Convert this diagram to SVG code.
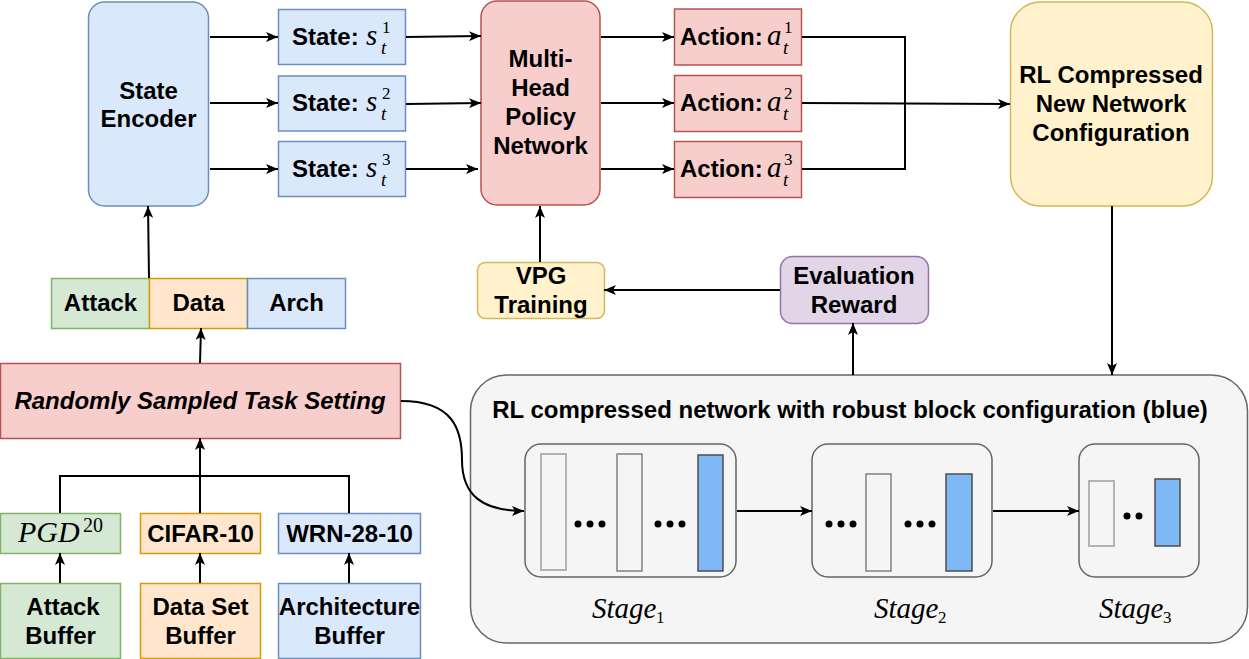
<svg xmlns="http://www.w3.org/2000/svg" width="1249" height="659" viewBox="0 0 1249 659">
<defs>
<marker id="arr" markerUnits="userSpaceOnUse" markerWidth="12" markerHeight="10" viewBox="0 0 12 10" refX="12" refY="5" orient="auto">
<path d="M0,0 L12,5 L0,10 L3,5 Z" fill="#000"/>
</marker>
<style>
.t{font-family:"Liberation Sans",Arial,sans-serif;font-weight:bold;font-size:24px;fill:#000;text-anchor:middle}
.ts{font-family:"Liberation Sans",Arial,sans-serif;font-weight:bold;font-size:24px;fill:#000}
.m{font-family:"Liberation Serif","Times New Roman",serif;font-style:italic;font-weight:normal;font-size:29px;fill:#000}
.mt{font-family:"Liberation Serif","Times New Roman",serif;font-style:italic;font-weight:normal;font-size:19px;fill:#000}
.ms{font-family:"Liberation Serif","Times New Roman",serif;font-style:normal;font-weight:normal;font-size:17px;fill:#000}
.ln{fill:none;stroke:#000;stroke-width:2}
.blue{fill:#dae8fc;stroke:#6c8ebf;stroke-width:1.5}
.red{fill:#f8cecc;stroke:#b85450;stroke-width:1.5}
.yel{fill:#fff2cc;stroke:#d6b656;stroke-width:1.5}
.grn{fill:#d5e8d4;stroke:#82b366;stroke-width:1.5}
.org{fill:#ffe6cc;stroke:#d79b00;stroke-width:1.5}
.pur{fill:#e1d5e7;stroke:#9673a6;stroke-width:1.5}
.stage{fill:#f5f5f5;stroke:#666;stroke-width:1.5}
.blk{fill:#f5f5f5;stroke:#808080;stroke-width:1.5}
.blkl{fill:#f5f5f5;stroke:#b3b3b3;stroke-width:2}
.rb{fill:#7eb9f6;stroke:#4d4d4d;stroke-width:1.5}
</style>
</defs>
<rect width="1249" height="659" fill="#fff"/>

<g id="container">
<rect x="470.5" y="375" width="777" height="268" rx="36" fill="#f5f5f5" stroke="#666" stroke-width="1.5"/>
<text class="t" x="850" y="418">RL compressed network with robust block configuration (blue)</text>
</g>

<g id="stage1">
<rect class="stage" x="525" y="444" width="211" height="133" rx="16"/>
<rect class="blkl" x="541" y="454" width="25" height="116"/>
<rect class="blk" x="617" y="454" width="25" height="117"/>
<rect class="rb" x="698" y="455" width="25" height="116"/>
<circle cx="578" cy="524" r="3.5"/><circle cx="590" cy="524" r="3.5"/><circle cx="602" cy="524" r="3.5"/>
<circle cx="658" cy="524" r="3.5"/><circle cx="670" cy="524" r="3.5"/><circle cx="682" cy="524" r="3.5"/>
<text class="m" x="592" y="618">Stage<tspan class="ms" x="656" y="623">1</tspan></text>
</g>

<g id="stage2">
<rect class="stage" x="812" y="444" width="180" height="133" rx="16"/>
<rect class="blk" x="866" y="474" width="25" height="97"/>
<rect class="rb" x="946" y="474" width="26" height="97"/>
<circle cx="829" cy="524" r="3.5"/><circle cx="841" cy="524" r="3.5"/><circle cx="853" cy="524" r="3.5"/>
<circle cx="908" cy="524" r="3.5"/><circle cx="920" cy="524" r="3.5"/><circle cx="932" cy="524" r="3.5"/>
<text class="m" x="874" y="618">Stage<tspan class="ms" x="938" y="623">2</tspan></text>
</g>

<g id="stage3">
<rect class="stage" x="1079" y="444" width="120" height="133" rx="16"/>
<rect class="blkl" x="1089" y="481" width="25" height="65"/>
<rect class="rb" x="1155" y="479" width="25" height="67"/>
<circle cx="1127" cy="516" r="3.5"/><circle cx="1139" cy="516" r="3.5"/>
<text class="m" x="1099" y="618">Stage<tspan class="ms" x="1163" y="623">3</tspan></text>
</g>

<g id="state-encoder">
<rect class="blue" x="88.5" y="2" width="120" height="204" rx="16"/>
<text class="t" x="148.5" y="99">State</text>
<text class="t" x="148.5" y="127">Encoder</text>
</g>

<g id="state1">
<rect class="blue" x="278.5" y="9.5" width="127" height="55"/>
<text class="ts" x="292" y="45">State:<tspan class="m" x="366">s</tspan><tspan class="ms" x="382" y="33">1</tspan><tspan class="mt" x="381" y="54">t</tspan></text>
</g>
<g id="state2">
<rect class="blue" x="278.5" y="76" width="127" height="55"/>
<text class="ts" x="292" y="111">State:<tspan class="m" x="366">s</tspan><tspan class="ms" x="382" y="99">2</tspan><tspan class="mt" x="381" y="120">t</tspan></text>
</g>
<g id="state3">
<rect class="blue" x="278.5" y="141.5" width="127" height="55"/>
<text class="ts" x="292" y="177">State:<tspan class="m" x="366">s</tspan><tspan class="ms" x="382" y="165">3</tspan><tspan class="mt" x="381" y="186">t</tspan></text>
</g>

<g id="policy">
<rect class="red" x="481" y="1" width="119" height="204" rx="16"/>
<text class="t" x="540.5" y="67">Multi-</text>
<text class="t" x="540.5" y="96">Head</text>
<text class="t" x="540.5" y="125">Policy</text>
<text class="t" x="540.5" y="154">Network</text>
</g>

<g id="action1">
<rect class="red" x="674.5" y="9" width="127" height="56"/>
<text class="ts" x="680" y="45">Action:<tspan class="m" x="767">a</tspan><tspan class="ms" x="784" y="33">1</tspan><tspan class="mt" x="783" y="54">t</tspan></text>
</g>
<g id="action2">
<rect class="red" x="674.5" y="75.5" width="127" height="56"/>
<text class="ts" x="680" y="111">Action:<tspan class="m" x="767">a</tspan><tspan class="ms" x="784" y="99">2</tspan><tspan class="mt" x="783" y="120">t</tspan></text>
</g>
<g id="action3">
<rect class="red" x="674.5" y="141.5" width="127" height="56"/>
<text class="ts" x="680" y="177">Action:<tspan class="m" x="767">a</tspan><tspan class="ms" x="784" y="165">3</tspan><tspan class="mt" x="783" y="186">t</tspan></text>
</g>

<g id="rl-config">
<rect class="yel" x="1010.5" y="2" width="202" height="204" rx="30"/>
<text class="t" x="1111" y="83">RL Compressed</text>
<text class="t" x="1111" y="112">New Network</text>
<text class="t" x="1111" y="141">Configuration</text>
</g>

<g id="vpg">
<rect class="yel" x="477.5" y="262.5" width="127" height="56" rx="8"/>
<text class="t" x="541" y="284">VPG</text>
<text class="t" x="541" y="313">Training</text>
</g>

<g id="reward">
<rect class="pur" x="780.5" y="256.5" width="148" height="67" rx="12"/>
<text class="t" x="854" y="284">Evaluation</text>
<text class="t" x="854" y="313">Reward</text>
</g>

<g id="attack">
<rect class="grn" x="51.5" y="278.5" width="98" height="50"/>
<text class="t" x="100.5" y="311">Attack</text>
</g>
<g id="data">
<rect class="org" x="149.5" y="278.5" width="98" height="50"/>
<text class="t" x="198.5" y="311">Data</text>
</g>
<g id="arch">
<rect class="blue" x="247.5" y="278.5" width="98" height="50"/>
<text class="t" x="296.5" y="311">Arch</text>
</g>

<g id="task">
<rect class="red" x="0.5" y="363.5" width="400" height="75"/>
<text class="t" x="200" y="409" style="font-style:italic">Randomly Sampled Task Setting</text>
</g>

<g id="pgd">
<rect class="grn" x="0.5" y="513.5" width="120" height="40"/>
<text class="m" x="18" y="542" style="font-size:30px">PGD<tspan class="ms" x="83" y="532" style="font-size:20px">20</tspan></text>
</g>
<g id="cifar">
<rect class="org" x="140.5" y="513.5" width="120" height="40"/>
<text class="t" x="200.5" y="542">CIFAR-10</text>
</g>
<g id="wrn">
<rect class="blue" x="278.5" y="513.5" width="142" height="40"/>
<text class="t" x="349.5" y="542">WRN-28-10</text>
</g>

<g id="attack-buffer">
<rect class="grn" x="0.5" y="583.5" width="120" height="75"/>
<text class="t" x="63" y="615">Attack</text>
<text class="t" x="60.5" y="644">Buffer</text>
</g>
<g id="data-buffer">
<rect class="org" x="140.5" y="583.5" width="120" height="75"/>
<text class="t" x="200.5" y="615">Data Set</text>
<text class="t" x="200.5" y="644">Buffer</text>
</g>
<g id="arch-buffer">
<rect class="blue" x="278.5" y="583.5" width="142" height="75"/>
<text class="t" x="349.5" y="615">Architecture</text>
<text class="t" x="349.5" y="644">Buffer</text>
</g>

<g id="connectors">
<path class="ln" d="M210,37 H278" marker-end="url(#arr)"/>
<path class="ln" d="M210,103 H278" marker-end="url(#arr)"/>
<path class="ln" d="M210,169 H278" marker-end="url(#arr)"/>
<path class="ln" d="M406,37 L481,36" marker-end="url(#arr)"/>
<path class="ln" d="M406,104 L481,103" marker-end="url(#arr)"/>
<path class="ln" d="M406,169 H478" marker-end="url(#arr)"/>
<path class="ln" d="M601,37 H674" marker-end="url(#arr)"/>
<path class="ln" d="M601,103 H674" marker-end="url(#arr)"/>
<path class="ln" d="M601,169 H674" marker-end="url(#arr)"/>
<path class="ln" d="M802,37 H905 V169 H802"/>
<path class="ln" d="M802,103 L1010,104" marker-end="url(#arr)"/>
<path class="ln" d="M1112,206 V375" marker-end="url(#arr)"/>
<path class="ln" d="M853,375 V323" marker-end="url(#arr)"/>
<path class="ln" d="M780,290 H604" marker-end="url(#arr)"/>
<path class="ln" d="M540,262 V206" marker-end="url(#arr)"/>
<path class="ln" d="M149,278 L148,206" marker-end="url(#arr)"/>
<path class="ln" d="M200,363 L201,328" marker-end="url(#arr)"/>
<path class="ln" d="M60,513 V476 H349 V513"/>
<path class="ln" d="M200,513 V438" marker-end="url(#arr)"/>
<path class="ln" d="M60,583 V553" marker-end="url(#arr)"/>
<path class="ln" d="M200,583 V553" marker-end="url(#arr)"/>
<path class="ln" d="M349,583 V553" marker-end="url(#arr)"/>
<path class="ln" d="M401,401 C452,401 462,428 462,460 C462,495 482,511 524,511" marker-end="url(#arr)"/>
<path class="ln" d="M737,511 H812" marker-end="url(#arr)"/>
<path class="ln" d="M993,511 H1079" marker-end="url(#arr)"/>
</g>
</svg>
